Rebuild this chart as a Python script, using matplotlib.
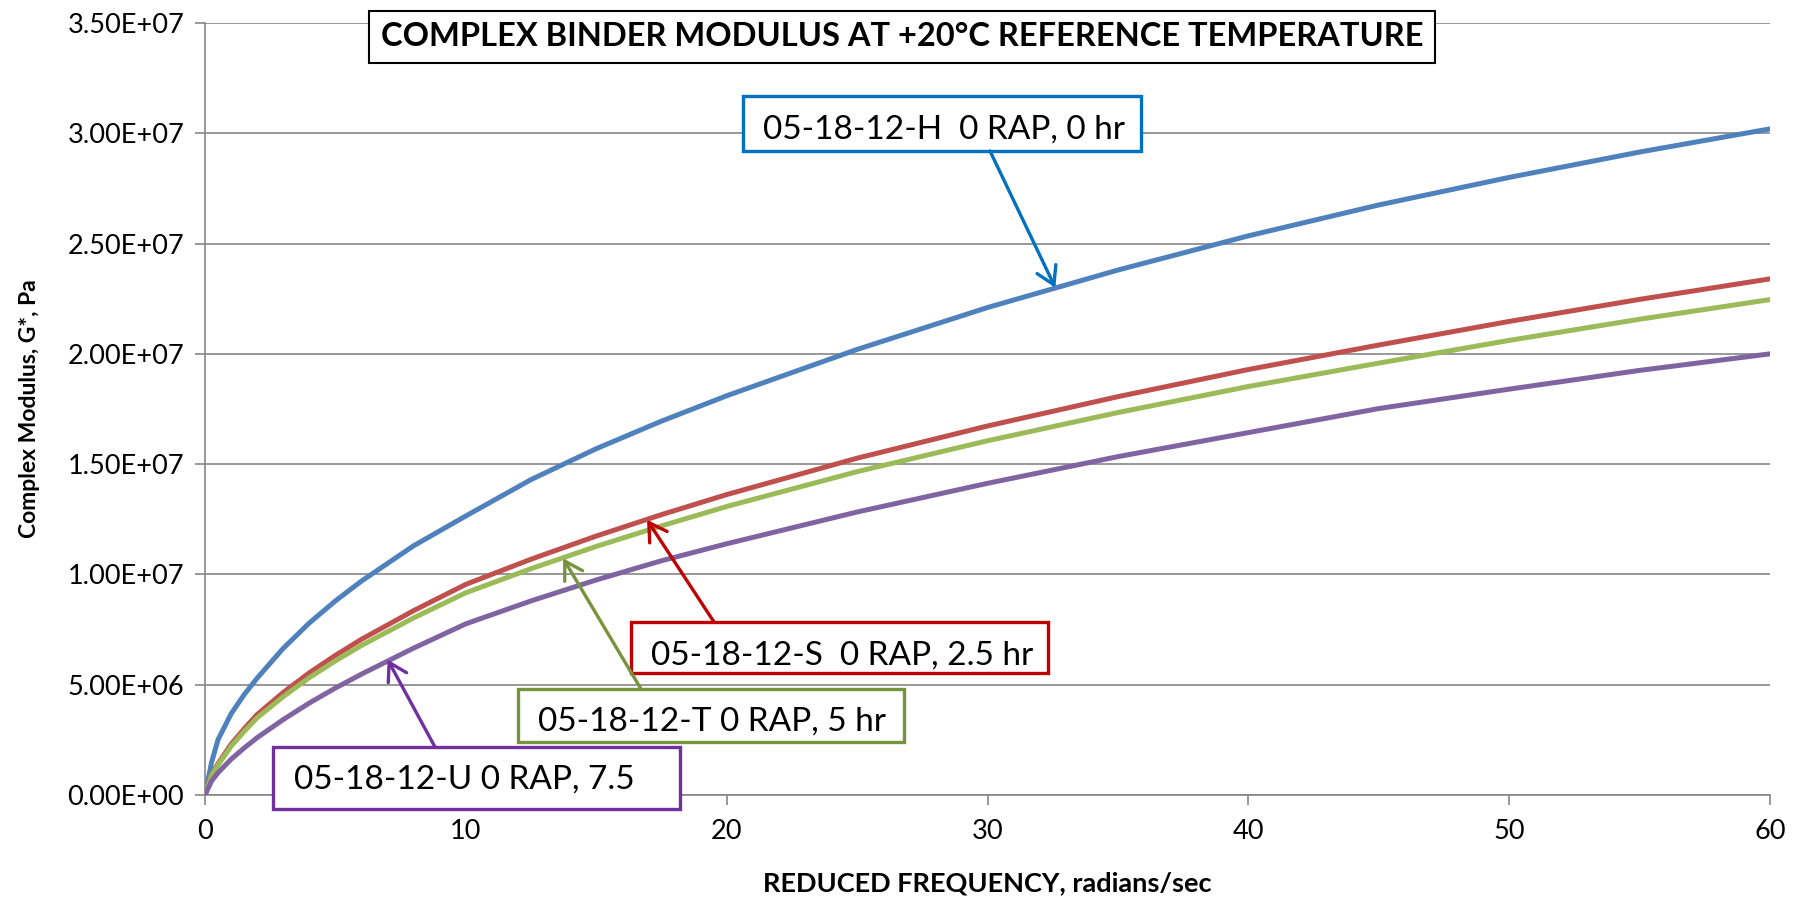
import matplotlib
matplotlib.use("Agg")
import matplotlib.pyplot as plt
from matplotlib.patches import Rectangle
from matplotlib.ticker import FuncFormatter

plt.rcParams['font.family'] = ['Lato', 'DejaVu Sans']

# reduced frequency, rad/s
freq = [0, 0.25, 0.5, 1, 1.5, 2, 3, 4, 5, 6, 8, 10, 12.5, 15, 17.5, 20,
        25, 30, 35, 40, 45, 50, 55, 60]

# complex modulus G*, Pa (in 1e6)
g_h = [0, 1.47, 2.51, 3.68, 4.55, 5.3, 6.65, 7.8, 8.8, 9.7, 11.3, 12.65, 14.3,
       15.7, 16.95, 18.1, 20.2, 22.1, 23.8, 25.35, 26.75, 28.0, 29.15, 30.2]
g_s = [0, 0.94, 1.42, 2.3, 3.0, 3.65, 4.65, 5.54, 6.33, 7.06, 8.36, 9.55, 10.69,
       11.74, 12.71, 13.62, 15.27, 16.73, 18.06, 19.29, 20.4, 21.47, 22.47, 23.4]
g_t = [0, 0.9, 1.36, 2.21, 2.88, 3.5, 4.46, 5.32, 6.08, 6.78, 8.03, 9.17, 10.26,
       11.27, 12.2, 13.08, 14.66, 16.06, 17.34, 18.52, 19.58, 20.61, 21.57, 22.46]
g_u = [0, 0.63, 1.01, 1.62, 2.13, 2.6, 3.42, 4.17, 4.85, 5.48, 6.66, 7.76, 8.8,
       9.75, 10.62, 11.39, 12.83, 14.13, 15.34, 16.43, 17.52, 18.4, 19.25, 20.0]

series = [g_h, g_s, g_t, g_u]
line_colors = ['#4F81BD', '#C0504D', '#9BBB59', '#8064A2']

labels = ['05-18-12-H  0 RAP, 0 hr', '05-18-12-S  0 RAP, 2.5 hr',
          '05-18-12-T 0 RAP, 5 hr', '05-18-12-U 0 RAP, 7.5']
box_colors = ['#0070C0', '#C00000', '#77933C', '#7030A0']
# arrow tips on the curves (freq, G* in 1e6)
tips = [(32.6, 23.0), (16.95, 12.47), (13.73, 10.73), (7.0, 6.14)]

fig = plt.figure(figsize=(18.06, 9.02), dpi=100)
ax = fig.add_axes([205/1806, 1-795/902, 1565/1806, 772/902])

for g, c in zip(series, line_colors):
    ax.plot(freq, [v*1e6 for v in g], color=c, lw=3.6, solid_joinstyle='round', zorder=3)

ax.set_xlim(0, 60)
ax.set_ylim(0, 3.5e7)
ax.set_xticks(range(0, 61, 10))
ax.set_yticks([i*5e6 for i in range(8)])
ax.yaxis.set_major_formatter(FuncFormatter(lambda v, p: '{:.2E}'.format(v)))
ax.grid(axis='y', color='#868686', lw=1.2)
ax.set_axisbelow(True)
for s in ['top', 'right']:
    ax.spines[s].set_visible(False)
for s in ['left', 'bottom']:
    ax.spines[s].set_color('#868686')
    ax.spines[s].set_linewidth(1.2)
ax.tick_params(axis='both', colors='#868686', length=7, width=1.2, labelsize=19.5,
               labelcolor='black')
ax.tick_params(axis='x', pad=10)
ax.tick_params(axis='y', pad=8)

ax.set_xlabel('REDUCED FREQUENCY, radians/sec', fontsize=19.5, fontweight='bold', labelpad=20)
ax.set_ylabel('Complex Modulus, G*, Pa', fontsize=16.5, fontweight='bold', labelpad=20)

fig.text(902/1806, 1-37/902, 'COMPLEX BINDER MODULUS AT +20°C REFERENCE TEMPERATURE',
         ha='center', va='center', fontsize=23.5, fontweight='bold',
         bbox=dict(boxstyle='square,pad=0.35', fc='white', ec='black', lw=1.5))

# annotation boxes, positions in figure pixels converted to axes fraction
def fx(px):
    return (px - 205) / 1565

def fy(py):
    return (795 - py) / 772

boxes = [(743, 96, 1141, 151), (631, 622, 1048, 673),
         (518, 689, 904, 742), (273, 747, 680, 809)]
text_pos = [(763, 130), (651, 656), (538, 722), (294, 780)]
tails = [(990, 151), (714, 622), (641, 689), (435, 747)]

for lab, col, b, tp, tl, tip in zip(labels, box_colors, boxes, text_pos, tails, tips):
    r = Rectangle((fx(b[0]), fy(b[3])), fx(b[2]) - fx(b[0]), fy(b[1]) - fy(b[3]),
                  transform=ax.transAxes, fc='white', ec=col, lw=2.4, clip_on=False, zorder=5)
    ax.add_patch(r)
    ax.text(fx(tp[0]), fy(tp[1]), lab, transform=ax.transAxes, ha='left', va='center',
            fontsize=24, zorder=6)
    ax.annotate('', xy=(tip[0], tip[1]*1e6), xycoords='data',
                xytext=(fx(tl[0]), fy(tl[1])), textcoords='axes fraction',
                arrowprops=dict(arrowstyle='->,head_length=0.5,head_width=0.3',
                                color=col, lw=2.4, shrinkA=0, shrinkB=0,
                                mutation_scale=25),
                zorder=6, annotation_clip=False)

fig.savefig('out.png', dpi=100)
